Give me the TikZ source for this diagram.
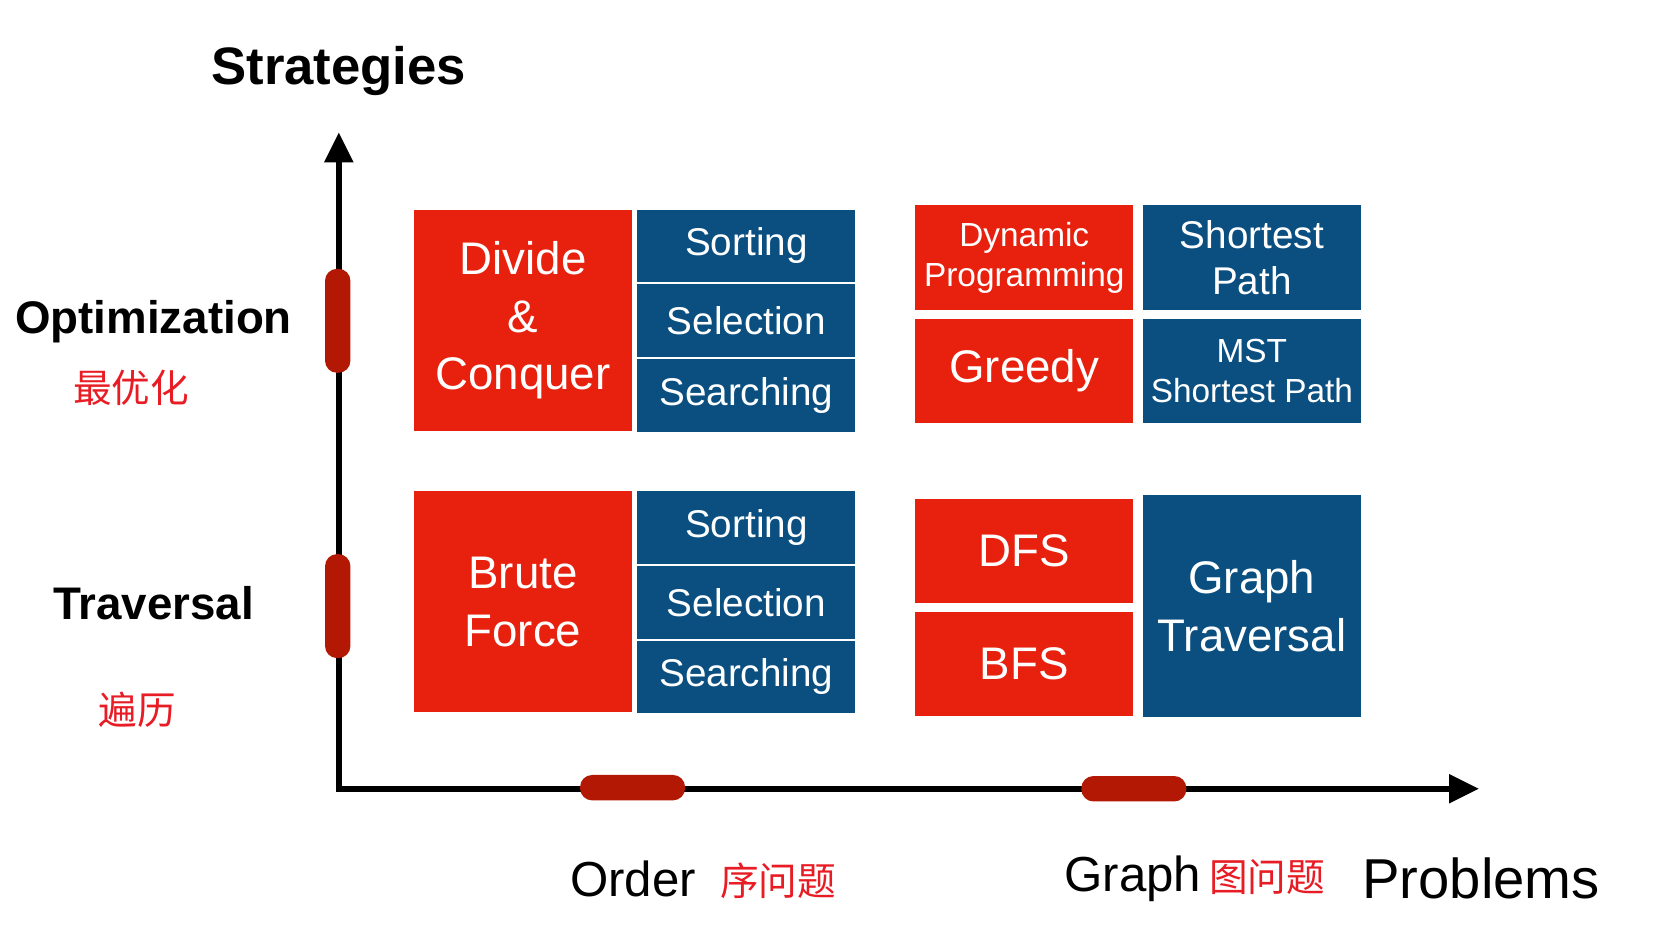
\documentclass[tikz,border=0pt]{standalone}
\usepackage{fontspec}
\setmainfont{Liberation Sans}
\newfontfamily\cjk{Noto Sans CJK SC}
\usetikzlibrary{positioning,arrows.meta}

\definecolor{boxred}{RGB}{232,33,15}
\definecolor{boxblue}{RGB}{10,79,128}
\definecolor{pillred}{RGB}{178,24,4}
\definecolor{cnred}{RGB}{232,28,36}

\begin{document}
\begin{tikzpicture}[x=0.010587cm, y=-0.010587cm,
  redbox/.style={rectangle, fill=boxred, text=white, align=center,
                 minimum width=2.18cm, inner sep=0pt, outer sep=0pt},
  bluebox/.style={rectangle, fill=boxblue, text=white, align=center,
                  minimum width=2.18cm, inner sep=0pt, outer sep=0pt},
  pill/.style={rectangle, rounded corners=0.12cm, fill=pillred, inner sep=0pt},
  axis/.style={line width=1.6pt,
               {Triangle[length=0.3cm, width=0.28cm]}-{Triangle[length=0.3cm, width=0.28cm]}},
  cnlabel/.style={text=cnred, font=\cjk\fontsize{11}{13}\selectfont},
  big/.style={font=\fontsize{13}{16.3}\selectfont},
  small/.style={font=\fontsize{11}{13.2}\selectfont},
  tiny/.style={font=\fontsize{9.5}{11.4}\selectfont}]
  \useasboundingbox (0,0) rectangle (1568,896);

  % axes
  \coordinate (o) at (320,745);
  \coordinate (ytip) at (320,125);
  \coordinate (xtip) at (1397,745);
  \draw[axis] (ytip) -- (o) -- (xtip);
  \node[pill, minimum width=0.254cm, minimum height=1.04cm] (popt) at (319,303) {};
  \node[pill, minimum width=0.254cm, minimum height=1.04cm] (ptrav) at (319,572.5) {};
  \node[pill, minimum width=1.05cm, minimum height=0.254cm] (pord) at (597.5,744) {};
  \node[pill, minimum width=1.05cm, minimum height=0.254cm] (pgraph) at (1071,745) {};

  % axis labels
  \node[font=\bfseries\fontsize{15}{18}\selectfont] (strat) at (320,67) {Strategies};
  \node[font=\bfseries\fontsize{13}{16}\selectfont] (opt) at (145,304) {Optimization};
  \node[cnlabel] (optcn) at (124,366) {最优化};
  \node[font=\bfseries\fontsize{13}{16}\selectfont] (trav) at (145,570) {Traversal};
  \node[cnlabel] (travcn) at (130,670) {遍历};
  \node[font=\fontsize{14}{17}\selectfont] (order) at (598,830) {Order};
  \node[cnlabel] (ordercn) at (735,832) {序问题};
  \node[font=\fontsize{14}{17}\selectfont] (graph) at (1070,830) {Graph};
  \node[cnlabel] (graphcn) at (1197,828) {图问题};
  \node[font=\fontsize{16}{19}\selectfont] (prob) at (1399,830) {Problems};

  % order / optimization
  \node[redbox, big, minimum height=2.21cm] (dc) at (494,302.5) {Divide\\\&\\Conquer};
  \node[bluebox, small, minimum height=0.727cm] (dcsort) at (705,232.3) {Sorting};
  \node[bluebox, small, minimum height=0.727cm, below=0.02cm of dcsort] (dcsel) {Selection};
  \node[bluebox, small, minimum height=0.727cm, below=0.02cm of dcsel] (dcsearch) {Searching};

  % order / traversal
  \node[redbox, big, minimum height=2.21cm] (bf) at (494,568.5) {Brute\\Force};
  \node[bluebox, small, minimum height=0.727cm] (bfsort) at (705,498.3) {Sorting};
  \node[bluebox, small, minimum height=0.727cm, below=0.02cm of bfsort] (bfsel) {Selection};
  \node[bluebox, small, minimum height=0.727cm, below=0.02cm of bfsel] (bfsearch) {Searching};

  % graph / optimization
  \node[redbox, tiny, minimum height=1.048cm] (dp) at (967.5,243.5) {Dynamic\\Programming};
  \node[redbox, big, minimum height=1.048cm, below=0.085cm of dp] (greedy) {Greedy};
  \node[bluebox, font=\fontsize{11}{13.2}\selectfont, minimum height=1.048cm] (sp) at (1182.5,243.5) {Shortest\\Path};
  \node[bluebox, tiny, minimum height=1.048cm, below=0.085cm of sp] (mst) {MST\\Shortest Path};

  % graph / traversal
  \node[redbox, big, minimum height=1.04cm] (dfs) at (967.5,520.1) {DFS};
  \node[redbox, big, minimum height=1.04cm, below=0.09cm of dfs] (bfs) {BFS};
  \node[bluebox, big, minimum height=2.213cm] (gt) at (1182.5,572.5) {Graph\\Traversal};
\end{tikzpicture}
\end{document}
